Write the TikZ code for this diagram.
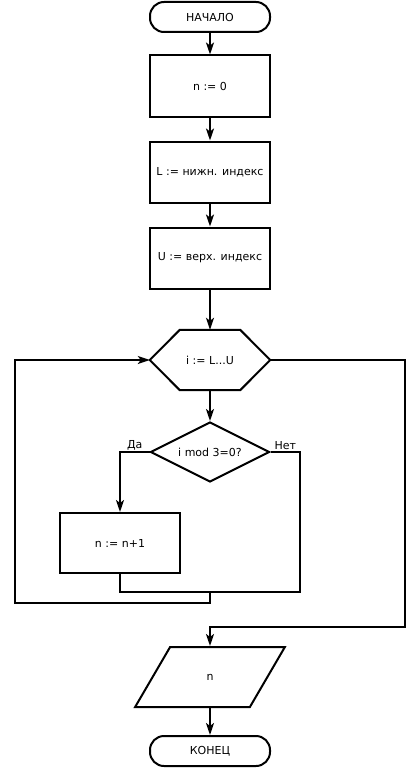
\documentclass[tikz,border=0pt]{standalone}
\usepackage{fontspec}
\setmainfont{DejaVu Sans}
\usetikzlibrary{shapes.geometric, arrows.meta, positioning}

\begin{document}
\begin{tikzpicture}[x=1pt,y=-1pt,
  term/.style={rectangle,draw,line width=2pt,rounded corners=14pt,minimum width=120pt,minimum height=30pt,font=\fontsize{11}{13}\selectfont},
  proc/.style={rectangle,draw,line width=2pt,minimum width=120pt,minimum height=61pt,font=\fontsize{11}{13}\selectfont},
  dec/.style={diamond,draw,line width=2pt,aspect=2,minimum width=119pt,minimum height=60pt,inner sep=1pt,font=\fontsize{11}{13}\selectfont},
  io/.style={trapezium,trapezium left angle=65,trapezium right angle=115,trapezium stretches=true,draw,line width=2pt,minimum width=150pt,minimum height=60pt,font=\fontsize{11}{13}\selectfont},
  lin/.style={line width=2pt},
  arr/.style={-{Stealth[length=12pt,width=8pt,inset=3pt]},line width=2pt}
]
  \useasboundingbox (0,0) rectangle (420,768);
  \node[term](start) at (210,17) {НАЧАЛО};
  \node[proc](n0) at (210,86) {n := 0};
  \node[proc](setL) at (210,172) {L := нижн. индекс};
  \node[proc](setU) at (210,258) {U := верх. индекс};
  \node[minimum width=120pt,minimum height=60pt,font=\fontsize{11}{13}\selectfont](loop) at (210,360) {i := L...U};
  \draw[lin] (loop.west) -- ([xshift=30pt]loop.north west) -- ([xshift=-30pt]loop.north east)
    -- (loop.east) -- ([xshift=-30pt]loop.south east) -- ([xshift=30pt]loop.south west) -- cycle;
  \node[dec](cond) at (210,452) {i mod 3=0?};
  \node[proc,minimum height=60pt](inc) at (120,543) {n := n+1};
  \node[io](out) at (210,677) {n};
  \node[term](stop) at (210,751) {КОНЕЦ};
  \coordinate (jr) at (300,592);
  \coordinate (jm) at (210,592);
  \coordinate (lb) at (15,603);
  \coordinate (rx) at (405,627);
  \draw[arr](start)--(n0); \draw[arr](n0)--(setL); \draw[arr](setL)--(setU);
  \draw[arr](setU)--(loop); \draw[arr](loop.south)--(cond);
  \draw[arr](cond.west) -| node[pos=0.25,above,inner sep=1pt,font=\fontsize{11}{13}\selectfont]{Да} (inc.north);
  \draw[lin](inc.south) |- (jr) |- node[pos=0.75,above,inner sep=1pt,font=\fontsize{11}{13}\selectfont]{Нет} (cond.east);
  \draw[arr](jm) |- (lb) |- (loop.west);
  \draw[arr](loop.east) -| (rx) -| (out.north);
  \draw[arr](out)--(stop);
\end{tikzpicture}
\end{document}
